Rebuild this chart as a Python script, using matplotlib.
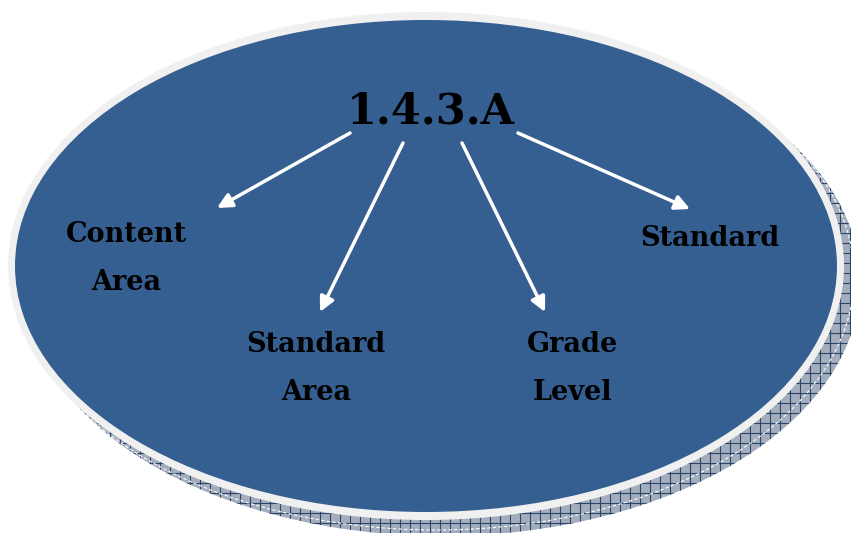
import numpy as np
from matplotlib import pyplot as plt
from matplotlib.patches import Ellipse

###############################################################################
# Diagram content
###############################################################################

code_label = '1.4.3.A'
part_labels = ['Content\nArea', 'Standard\nArea', 'Grade\nLevel', 'Standard']

# label centres (pixel coords, y down)
label_xy = [(126, 259), (316, 369), (573, 369), (710, 239)]
# arrow tails and heads
arrow_from = [(350, 133), (403, 143), (462, 143), (518, 133)]
arrow_to = [(217, 208), (320, 312), (545, 312), (690, 209)]

###############################################################################
# Plotting
###############################################################################

W, H = 851, 533
fig = plt.figure(figsize=(W / 100, H / 100), dpi=100)
ax = fig.add_axes([0, 0, 1, 1])
ax.set_xlim(0, W)
ax.set_ylim(H, 0)
ax.axis('off')

cx, cy = 426, 266
a, b = 836, 508

# shadow, with a 10 px grid drawn inside it
shadow = Ellipse((cx + 16, cy + 16), a, b, facecolor='#a3adbd', lw=0, zorder=1)
ax.add_patch(shadow)
for gx in np.arange(0, W, 10):
    ln = ax.plot([gx, gx], [0, H], color='#2b4569', lw=0.8, zorder=1.5)[0]
    ln.set_clip_path(shadow)
for gy in np.arange(3, H, 10):
    ln = ax.plot([0, W], [gy, gy], color='#2b4569', lw=0.8, zorder=1.5)[0]
    ln.set_clip_path(shadow)
ax.add_patch(Ellipse((cx + 10, cy + 10), a, b, facecolor='none',
                     edgecolor='white', lw=0.8, ls=(0, (3, 2)), zorder=2))

# light border and main blue body
ax.add_patch(Ellipse((cx, cy), a, b, facecolor='#f0f0f0', lw=0, zorder=3))
ax.add_patch(Ellipse((cx, cy), a - 14, b - 16, facecolor='#365f91', lw=0, zorder=4))

ax.text(431, 112, code_label, fontsize=31, fontweight='heavy',
        family='DejaVu Serif', ha='center', va='center', zorder=6)

for txt, (x, y) in zip(part_labels, label_xy):
    ax.text(x, y, txt, fontsize=19.5, fontweight='bold', family='DejaVu Serif',
            ha='center', va='center', linespacing=2.0, zorder=6)

for p0, p1 in zip(arrow_from, arrow_to):
    ax.annotate('', xy=p1, xytext=p0, zorder=5,
                arrowprops=dict(arrowstyle='-|>', color='white', lw=2.5,
                                mutation_scale=22, shrinkA=0, shrinkB=0))

fig.savefig('out.png', dpi=100)
